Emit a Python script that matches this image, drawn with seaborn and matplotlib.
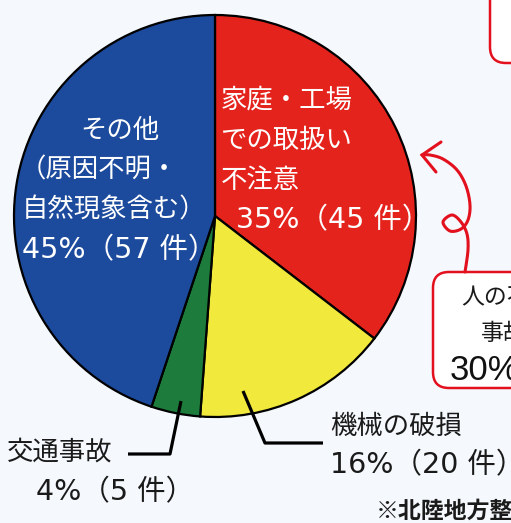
import numpy as np
import matplotlib
matplotlib.use('Agg')
import matplotlib.pyplot as plt
from matplotlib.patches import FancyBboxPatch
import seaborn as sns

sns.set_theme(style="white")
plt.rcParams['font.family'] = ['Noto Sans CJK JP', 'DejaVu Sans']

# ---- data ----
categories = ['家庭・工場での取扱い不注意', '機械の破損', '交通事故', 'その他（原因不明・自然現象含む）']
counts = [45, 20, 5, 57]
percents = [35, 16, 4, 45]
colors = ['#E5231D', '#F1E93C', '#1D7C3B', '#1C4A9C']
bg = '#F5F9FD'

fig = plt.figure(figsize=(5.11, 5.23), dpi=100, facecolor=bg)
ax = fig.add_axes([0, 0, 1, 1])
ax.set_facecolor(bg)

# pie in pixel space (y axis pointing down)
ax.pie(counts, colors=sns.color_palette(colors), startangle=-90, counterclock=True,
       center=(215, 216), radius=201,
       wedgeprops=dict(edgecolor='black', linewidth=1.6))
ax.set_xlim(0, 511)
ax.set_ylim(523, 0)
ax.set_aspect('equal')
ax.axis('off')

fs = 19
nfs = 20.5
numfont = ['DejaVu Sans', 'Noto Sans CJK JP']
white = dict(color='white', va='center')
black = dict(color='#1a1a1a', va='center')

# red slice label
ax.text(221, 100, '家庭・工場', fontsize=fs, **white)
ax.text(221, 140, 'での取扱い', fontsize=fs, **white)
ax.text(221, 180, '不注意', fontsize=fs, **white)
ax.text(236, 220, f'{percents[0]}%（{counts[0]} 件）', family=numfont, fontsize=nfs, **white)

# blue slice label
ax.text(120, 130, 'その他', ha='center', fontsize=fs, **white)
ax.text(20, 170, '（原因不明・', fontsize=fs, **white)
ax.text(22, 210, '自然現象含む）', fontsize=fs, **white)
ax.text(22, 250, f'{percents[3]}%（{counts[3]} 件）', family=numfont, fontsize=nfs, **white)

# outside labels with leader lines
ax.plot([128, 170, 181], [454, 454, 401], color='black', lw=2.3, solid_capstyle='butt')
ax.text(7, 452, '交通事故', fontsize=fs, **black)
ax.text(36, 492, f'{percents[2]}%（{counts[2]} 件）', family=numfont, fontsize=nfs, **black)

ax.plot([243, 265, 323], [391, 443, 443], color='black', lw=2.3, solid_capstyle='butt')
ax.text(330, 426, '機械の破損', fontsize=fs, **black)
ax.text(330, 465, f'{percents[1]}%（{counts[1]} 件）', family=numfont, fontsize=nfs, **black)

# cropped boxes on the right
box1 = FancyBboxPatch((490, -60), 120, 123, boxstyle='round,pad=0,rounding_size=16',
                      facecolor='white', edgecolor='#E3101E', lw=1.8)
ax.add_patch(box1)
box2 = FancyBboxPatch((433, 272), 140, 116, boxstyle='round,pad=0,rounding_size=16',
                      facecolor='white', edgecolor='#E3101E', lw=1.8)
ax.add_patch(box2)
ax.text(461, 297, '人の不注意', color='#1a1a1a', fontsize=16.5, va='center')
ax.text(481, 333, '事故', color='#1a1a1a', fontsize=16.5, va='center')
ax.text(450, 370, '30%', color='#111111', fontsize=25, va='center',
        family=['Liberation Sans', 'DejaVu Sans'])

# curly arrow
pts = np.array([(465, 272), (468, 250), (467, 234), (461, 222), (452, 215), (443, 222),
                (450, 231), (461, 229), (468, 220), (470, 205), (466, 186), (457, 170),
                (443, 159), (430, 155), (422, 155)], float)
def catmull(p, n=20):
    p = np.vstack([p[0], p, p[-1]])
    out = []
    for i in range(1, len(p) - 2):
        p0, p1, p2, p3 = p[i - 1], p[i], p[i + 1], p[i + 2]
        t = np.linspace(0, 1, n)[:, None]
        out.append(0.5 * ((2 * p1) + (-p0 + p2) * t + (2 * p0 - 5 * p1 + 4 * p2 - p3) * t ** 2
                          + (-p0 + 3 * p1 - 3 * p2 + p3) * t ** 3))
    return np.vstack(out)
curve = catmull(pts)
ax.plot(curve[:, 0], curve[:, 1], color='#E3101E', lw=2.2, solid_capstyle='round')
ax.plot([441, 422, 436], [142, 155, 172], color='#E3101E', lw=2.2,
        solid_capstyle='round', solid_joinstyle='miter')

# footnote
ax.text(376, 511, '※北陸地方整備局', color='#1a1a1a', fontsize=16.5, fontweight='bold', va='center')

fig.savefig('out.png', dpi=100, facecolor=bg)
